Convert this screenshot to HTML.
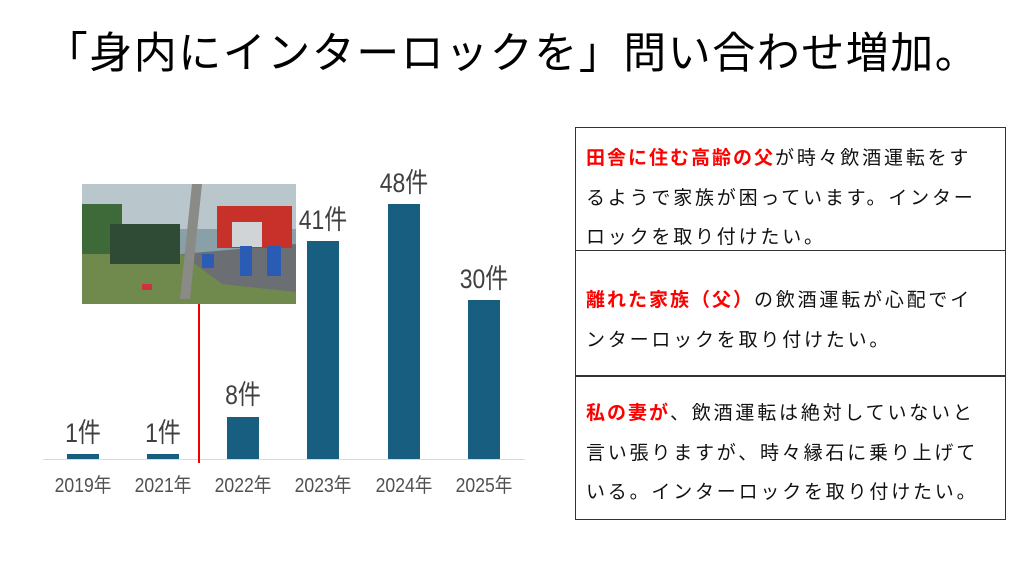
<!DOCTYPE html>
<html><head><meta charset="utf-8"><style>
body{margin:0;width:1024px;height:567px;background:#fff;position:relative;overflow:hidden;font-family:"Liberation Sans","Noto Sans CJK JP",sans-serif}
.t{position:absolute;left:0;width:1024px;top:28px;text-align:center;font-size:43px;line-height:52px;color:#000;letter-spacing:1.5px}
.bar{position:absolute;background:#175e80;width:32px}
.lb{position:absolute;width:80px;text-align:center;font-size:27px;line-height:30px;color:#404040;transform:scaleX(0.85)}
.yr{position:absolute;width:80px;text-align:center;font-size:20px;line-height:24px;color:#505050;top:474px;transform:scaleX(0.88)}
.box{position:absolute;left:575px;width:431px;border:1.5px solid #333;box-sizing:border-box;font-size:19px;letter-spacing:2.8px;line-height:39.5px;padding-left:10px;color:#111;white-space:nowrap}
.r{color:#f00;font-weight:bold;letter-spacing:2px}
</style></head><body>
<div class="t">「身内にインターロックを」問い合わせ増加。</div>
<div style="position:absolute;left:43px;top:459px;width:482px;height:1px;background:#d9d9d9"></div>
<div class="bar" style="left:67px;top:454px;height:5px"></div>
<div class="bar" style="left:147px;top:454px;height:5px"></div>
<div class="bar" style="left:227px;top:417px;height:42px"></div>
<div class="bar" style="left:307px;top:241px;height:218px"></div>
<div class="bar" style="left:388px;top:204px;height:255px"></div>
<div class="bar" style="left:468px;top:300px;height:159px"></div>
<div class="lb" style="left:43px;top:418px">1件</div>
<div class="lb" style="left:123px;top:418px">1件</div>
<div class="lb" style="left:203px;top:380px">8件</div>
<div class="lb" style="left:283px;top:205px">41件</div>
<div class="lb" style="left:364px;top:168px">48件</div>
<div class="lb" style="left:444px;top:264px">30件</div>
<div class="yr" style="left:43px">2019年</div>
<div class="yr" style="left:123px">2021年</div>
<div class="yr" style="left:203px">2022年</div>
<div class="yr" style="left:283px">2023年</div>
<div class="yr" style="left:364px">2024年</div>
<div class="yr" style="left:444px">2025年</div>
<div style="position:absolute;left:198px;top:304px;width:2px;height:159px;background:#e00"></div>
<svg style="position:absolute;left:82px;top:184px" width="214" height="120">
<rect width="214" height="120" fill="#8aa0a8"/>
<rect width="214" height="45" fill="#b9c6cc"/>
<rect x="0" y="20" width="40" height="50" fill="#3e6a3a"/>
<rect x="0" y="70" width="214" height="50" fill="#6f8a4c"/>
<polygon points="100,70 214,60 214,108 140,100" fill="#6b6e72"/>
<rect x="28" y="40" width="70" height="40" fill="#2f4a35"/>
<rect x="135" y="22" width="75" height="42" fill="#c8302a"/>
<rect x="150" y="38" width="30" height="25" fill="#d0d4d6"/>
<polygon points="110,0 120,0 108,115 98,115" fill="#8a8a86"/>
<rect x="120" y="70" width="12" height="14" fill="#2a5bb5"/>
<rect x="158" y="62" width="12" height="30" fill="#2a5bb5"/>
<rect x="185" y="62" width="14" height="30" fill="#2a5bb5"/>
<rect x="60" y="100" width="10" height="6" fill="#d03040"/>
</svg>
<div class="box" style="top:127px;height:124px;padding-top:11px"><span class="r">田舎に住む高齢の父</span>が時々飲酒運転をす<br>るようで家族が困っています。インター<br>ロックを取り付けたい。</div>
<div class="box" style="top:250px;height:127px;padding-top:30px"><span class="r">離れた家族（父）</span>の飲酒運転が心配でイ<br>ンターロックを取り付けたい。</div>
<div class="box" style="top:375px;height:145px;padding-top:18px"><span class="r">私の妻が</span>、飲酒運転は絶対していないと<br>言い張りますが、時々縁石に乗り上げて<br>いる。インターロックを取り付けたい。</div>
</body></html>
